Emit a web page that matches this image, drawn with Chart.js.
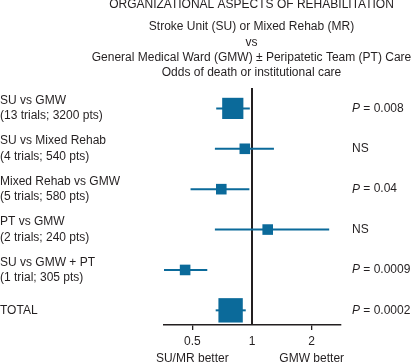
<!DOCTYPE html>
<html>
<head>
<meta charset="utf-8">
<script src="https://cdn.jsdelivr.net/npm/chart.js@4.4.1/dist/chart.umd.min.js"></script>
<style>
  html, body { margin: 0; padding: 0; background: #fff; }
  #wrap { width: 414px; height: 363px; position: relative; }
</style>
</head>
<body>
<div id="wrap"><canvas id="forest"></canvas></div>
<script>
/* Forest plot - organizational aspects of rehabilitation */

const rowLabels = [
  ['SU vs GMW', '(13 trials; 3200 pts)'],
  ['SU vs Mixed Rehab', '(4 trials; 540 pts)'],
  ['Mixed Rehab vs GMW', '(5 trials; 580 pts)'],
  ['PT vs GMW', '(2 trials; 240 pts)'],
  ['SU vs GMW + PT', '(1 trial; 305 pts)'],
  'TOTAL'
];
const oddsRatio = [0.80, 0.92, 0.70, 1.20, 0.46, 0.78];
const ciLow = [0.66, 0.65, 0.49, 0.65, 0.36, 0.656];
const ciHigh = [0.975, 1.29, 0.97, 2.45, 0.595, 0.93];
const boxWeight = [2.0, 1, 1, 1, 1, 2.3];
const pLabels = ['P = 0.008', 'NS', 'P = 0.04', 'NS', 'P = 0.0009', 'P = 0.0002'];
const xTicks = [0.5, 1, 2];
const betterTicks = [0.5, 2];
const betterLabels = ['SU/MR better', 'GMW better'];

const titleLines = [
  'ORGANIZATIONAL ASPECTS OF REHABILITATION',
  'Stroke Unit (SU) or Mixed Rehab (MR)',
  'vs',
  'General Medical Ward (GMW) \u00b1 Peripatetic Team (PT) Care',
  'Odds of death or institutional care'
];

const FONT = '"Liberation Sans", Arial, Helvetica, sans-serif';
const INK = '#231f20';
const BLUE = '#0b6a9a';

const ciSets = rowLabels.map((_, i) => ({
  data: [{ x: ciLow[i], y: i }, { x: ciHigh[i], y: i }],
  showLine: true,
  borderColor: BLUE,
  borderWidth: 2,
  pointRadius: 0
}));

const boxSet = {
  data: oddsRatio.map((v, i) => ({ x: v, y: i })),
  pointStyle: 'rect',
  pointRadius: ctx => boxWeight[ctx.dataIndex] * 10.6 / Math.SQRT2,
  backgroundColor: BLUE,
  borderWidth: 0
};

// heading block, centred over the plot area
const headingPlugin = {
  id: 'heading',
  afterDraw(chart) {
    const ctx = chart.ctx;
    const cx = (chart.chartArea.left + chart.chartArea.right) / 2 - 1;
    ctx.save();
    ctx.fillStyle = INK;
    ctx.textAlign = 'center';
    ctx.textBaseline = 'middle';
    ctx.font = '12px ' + FONT;
    ctx.fillText(titleLines[0], cx, 5);
    for (let i = 1; i < titleLines.length; i++) {
      ctx.fillText(titleLines[i], cx, 27 + (i - 1) * 15.3);
    }
    ctx.restore();
  }
};

// P values on the right, italic P
const pValuePlugin = {
  id: 'pvalues',
  afterDraw(chart) {
    const ctx = chart.ctx;
    const yScale = chart.scales.y;
    const x0 = chart.chartArea.right + 11;
    ctx.save();
    ctx.fillStyle = INK;
    ctx.textBaseline = 'middle';
    ctx.textAlign = 'left';
    pLabels.forEach((txt, i) => {
      const y = yScale.getPixelForValue(i);
      let x = x0;
      if (txt.startsWith('P ')) {
        ctx.font = 'italic 12px ' + FONT;
        ctx.fillText('P', x, y);
        x += ctx.measureText('P').width;
        txt = txt.slice(1);
      }
      ctx.font = '12px ' + FONT;
      ctx.fillText(txt, x, y);
    });
    ctx.restore();
  }
};

new Chart(document.getElementById('forest'), {
  type: 'scatter',
  data: { datasets: [boxSet, ...ciSets] },
  options: {
    responsive: true,
    maintainAspectRatio: false,
    animation: false,
    layout: { padding: { left: 0, right: 73, top: 88, bottom: 0 } },
    plugins: {
      legend: { display: false },
      tooltip: { enabled: false },
      title: { display: false }
    },
    scales: {
      x: {
        type: 'logarithmic',
        position: 'bottom',
        weight: 0,
        min: 0.36,
        max: 2.81,
        afterBuildTicks: scale => { scale.ticks = xTicks.map(v => ({ value: v })); },
        afterFit: scale => { scale.height = 23; },
        ticks: {
          autoSkip: false,
          maxRotation: 0,
          padding: 4.5,
          color: INK,
          font: { family: FONT, size: 12 },
          callback: v => String(v)
        },
        grid: {
          drawOnChartArea: true,
          drawTicks: true,
          tickLength: 5,
          color: ctx => (ctx.tick && ctx.tick.value === 1 ? INK : 'rgba(0,0,0,0)'),
          tickColor: ctx => (ctx.tick && ctx.tick.value === 1 ? 'rgba(0,0,0,0)' : INK),
          lineWidth: ctx => (ctx.tick && ctx.tick.value === 1 ? 2 : 1.3)
        },
        border: { display: true, color: INK, width: 1.5 }
      },
      x2: {
        type: 'logarithmic',
        position: 'bottom',
        weight: 1,
        min: 0.36,
        max: 2.81,
        afterBuildTicks: scale => { scale.ticks = betterTicks.map(v => ({ value: v })); },
        afterFit: scale => { scale.height = 15; },
        ticks: {
          autoSkip: false,
          maxRotation: 0,
          padding: 3,
          color: INK,
          font: { family: FONT, size: 12 },
          callback: (v, i) => betterLabels[i]
        },
        grid: { display: false, drawTicks: false },
        border: { display: false }
      },
      y: {
        type: 'linear',
        position: 'left',
        reverse: true,
        min: -0.505,
        max: 5.363,
        afterBuildTicks: scale => { scale.ticks = rowLabels.map((_, i) => ({ value: i })); },
        afterFit: scale => { scale.width = 164; },
        ticks: {
          autoSkip: false,
          crossAlign: 'far',
          color: INK,
          font: { family: FONT, size: 12, lineHeight: 1.29 },
          callback: v => rowLabels[v]
        },
        grid: { display: false, drawTicks: false },
        border: { display: false }
      }
    }
  },
  plugins: [headingPlugin, pValuePlugin]
});
</script>
</body>
</html>
